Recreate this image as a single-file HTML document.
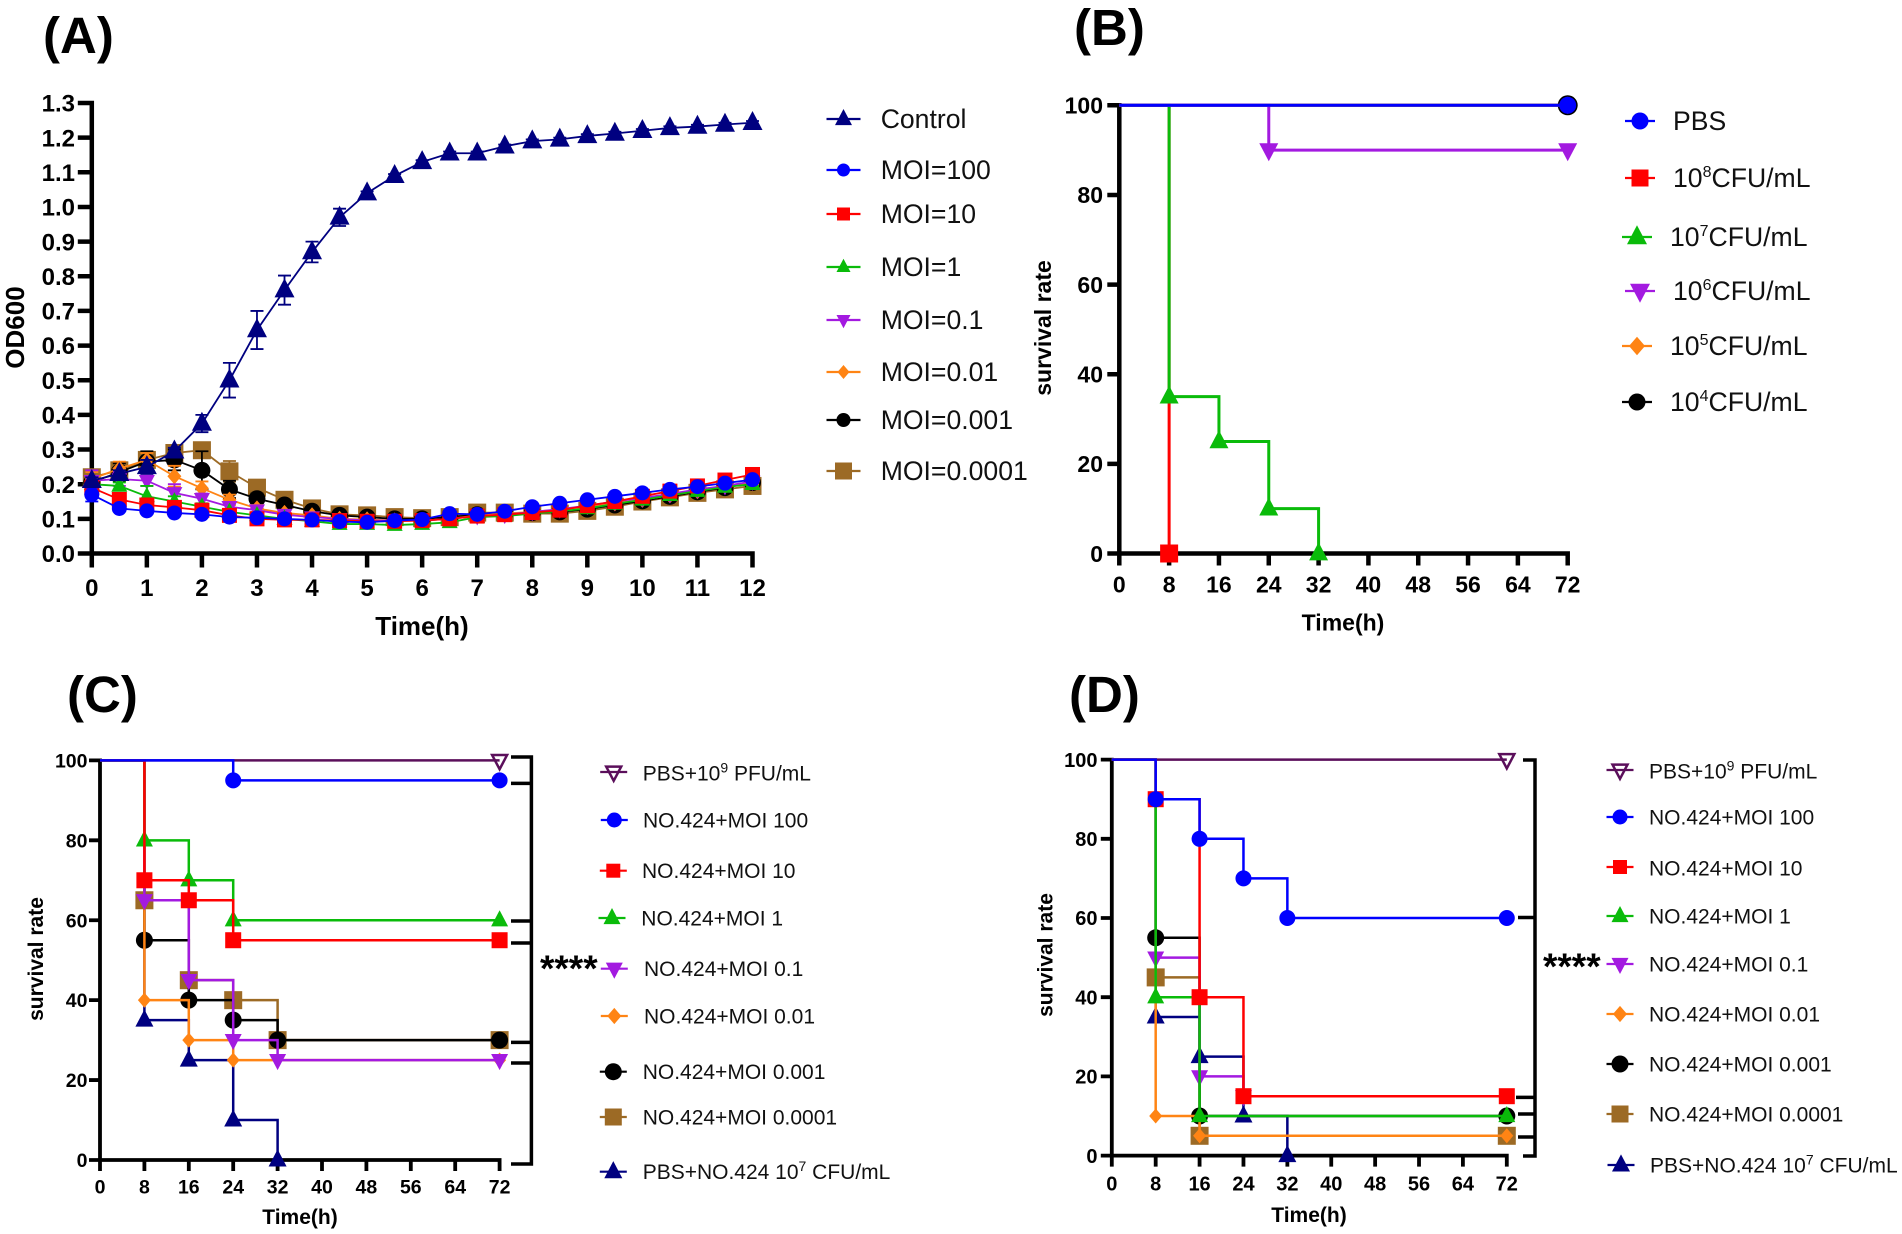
<!DOCTYPE html>
<html lang="en">
<head>
<meta charset="utf-8">
<title>Phage growth and survival curves</title>
<style>
html,body{margin:0;padding:0;background:#fff;}
body{width:1902px;height:1234px;overflow:hidden;}
svg{display:block;}
text{font-family:"Liberation Sans",Arial,sans-serif;fill:#000;}
.title{font-size:51px;font-weight:bold;}
.la{font-size:26.6px;fill:#111;}
.lc{font-size:21px;fill:#111;}
</style>
</head>
<body>
<svg id="figure" xmlns="http://www.w3.org/2000/svg" width="1902" height="1234" viewBox="0 0 1902 1234">
  <text class="title" x="43" y="53">(A)</text>
  <text class="title" x="1074" y="45">(B)</text>
  <text class="title" x="67" y="712">(C)</text>
  <text class="title" x="1069" y="712">(D)</text>

  <g id="panel-a">
    <text x="626" y="635" font-size="26" font-weight="bold" text-anchor="middle" transform="translate(-204,0)">Time(h)</text>
    <text transform="translate(24,327.5) rotate(-90)" font-size="26" font-weight="bold" text-anchor="middle">OD600</text>
  </g>
  <g id="panel-b">
    <text x="1343" y="630.5" font-size="23" font-weight="bold" text-anchor="middle">Time(h)</text>
    <text transform="translate(1051,328) rotate(-90)" font-size="23" font-weight="bold" text-anchor="middle">survival rate</text>
  </g>
  <g id="panel-c">
    <text x="300" y="1224" font-size="21" font-weight="bold" text-anchor="middle">Time(h)</text>
    <text transform="translate(43,959) rotate(-90)" font-size="21" font-weight="bold" text-anchor="middle">survival rate</text>
    <path d="M511 757H531.4V1164H511M511 783.4H531M511 921H531M511 943H531M511 1042.4H531M511 1063H531" fill="none" stroke="#000" stroke-width="3.5"/>
    <text x="540" y="981" font-size="37" font-weight="bold">****</text>
  </g>
  <g id="panel-d">
    <text x="1309" y="1222" font-size="21" font-weight="bold" text-anchor="middle">Time(h)</text>
    <text transform="translate(1052.5,955) rotate(-90)" font-size="21" font-weight="bold" text-anchor="middle">survival rate</text>
    <path d="M1523 760H1535V1156H1523M1518 917.5H1535M1516 1097.4H1535M1518 1114H1535M1518 1137H1535" fill="none" stroke="#000" stroke-width="3.5"/>
    <text x="1543" y="979" font-size="37" font-weight="bold">****</text>
  </g>

  <g id="legend-a">
    <g class="lg" data-shape="triUp" data-color="#000080" data-cx="843.5" data-cy="119" data-size="17" data-half="17"><text class="la" x="880.7" y="128">Control</text></g>
    <g class="lg" data-shape="circle" data-color="#0000ff" data-cx="843.5" data-cy="170" data-size="13" data-half="17"><text class="la" x="880.7" y="179">MOI=100</text></g>
    <g class="lg" data-shape="square" data-color="#ff0000" data-cx="843.5" data-cy="214" data-size="13" data-half="17"><text class="la" x="880.7" y="223">MOI=10</text></g>
    <g class="lg" data-shape="triUp" data-color="#0abb0a" data-cx="843.5" data-cy="267" data-size="14" data-half="17"><text class="la" x="880.7" y="276">MOI=1</text></g>
    <g class="lg" data-shape="triDown" data-color="#a31ae0" data-cx="843.5" data-cy="320" data-size="14" data-half="17"><text class="la" x="880.7" y="329">MOI=0.1</text></g>
    <g class="lg" data-shape="diamond" data-color="#ff8414" data-cx="843.5" data-cy="372" data-size="12" data-half="17"><text class="la" x="880.7" y="381">MOI=0.01</text></g>
    <g class="lg" data-shape="circle" data-color="#000000" data-cx="843.5" data-cy="420" data-size="14" data-half="17"><text class="la" x="880.7" y="429">MOI=0.001</text></g>
    <g class="lg" data-shape="square" data-color="#9c6a25" data-cx="843.5" data-cy="471" data-size="17" data-half="17"><text class="la" x="880.7" y="480">MOI=0.0001</text></g>
  </g>

  <g id="legend-b">
    <g class="lg" data-shape="circle" data-color="#0000ff" data-cx="1640" data-cy="121" data-size="17" data-half="15"><text class="la" x="1673" y="130">PBS</text></g>
    <g class="lg" data-shape="square" data-color="#ff0000" data-cx="1640" data-cy="178" data-size="17" data-half="15"><text class="la" x="1673" y="187">10<tspan dy="-10" font-size="16">8</tspan><tspan dy="10">CFU/mL</tspan></text></g>
    <g class="lg" data-shape="triUp" data-color="#0abb0a" data-cx="1637" data-cy="237" data-size="20" data-half="15"><text class="la" x="1670" y="246">10<tspan dy="-10" font-size="16">7</tspan><tspan dy="10">CFU/mL</tspan></text></g>
    <g class="lg" data-shape="triDown" data-color="#a31ae0" data-cx="1640" data-cy="291" data-size="20" data-half="15"><text class="la" x="1673" y="300">10<tspan dy="-10" font-size="16">6</tspan><tspan dy="10">CFU/mL</tspan></text></g>
    <g class="lg" data-shape="diamond" data-color="#ff8414" data-cx="1637" data-cy="346" data-size="16" data-half="15"><text class="la" x="1670" y="355">10<tspan dy="-10" font-size="16">5</tspan><tspan dy="10">CFU/mL</tspan></text></g>
    <g class="lg" data-shape="circle" data-color="#000000" data-cx="1637" data-cy="402" data-size="17" data-half="15"><text class="la" x="1670" y="411">10<tspan dy="-10" font-size="16">4</tspan><tspan dy="10">CFU/mL</tspan></text></g>
  </g>

  <g id="legend-c">
    <g class="lg" data-shape="triOpen" data-color="#5b0f5b" data-cx="613.7" data-cy="772" data-size="15" data-half="13.5"><text class="lc" x="642.7" y="780.5">PBS+10<tspan dy="-8" font-size="14">9</tspan><tspan dy="8"> PFU/mL</tspan></text></g>
    <g class="lg" data-shape="circle" data-color="#0000ff" data-cx="614.3" data-cy="820" data-size="15" data-half="13.5"><text class="lc" x="643" y="827.5">NO.424+MOI 100</text></g>
    <g class="lg" data-shape="square" data-color="#ff0000" data-cx="613.3" data-cy="870.7" data-size="14" data-half="13.5"><text class="lc" x="642" y="878">NO.424+MOI 10</text></g>
    <g class="lg" data-shape="triUp" data-color="#0abb0a" data-cx="612" data-cy="918" data-size="17" data-half="13.5"><text class="lc" x="641.3" y="925.5">NO.424+MOI 1</text></g>
    <g class="lg" data-shape="triDown" data-color="#a31ae0" data-cx="614.3" data-cy="968.7" data-size="17" data-half="13.5"><text class="lc" x="644" y="976">NO.424+MOI 0.1</text></g>
    <g class="lg" data-shape="diamond" data-color="#ff8414" data-cx="614.3" data-cy="1016" data-size="14" data-half="13.5"><text class="lc" x="644" y="1023.5">NO.424+MOI 0.01</text></g>
    <g class="lg" data-shape="circle" data-color="#000000" data-cx="613.3" data-cy="1071.7" data-size="17" data-half="13.5"><text class="lc" x="642.7" y="1079">NO.424+MOI 0.001</text></g>
    <g class="lg" data-shape="square" data-color="#9c6a25" data-cx="613.3" data-cy="1117" data-size="17" data-half="13.5"><text class="lc" x="642.7" y="1124.5">NO.424+MOI 0.0001</text></g>
    <g class="lg" data-shape="triUp" data-color="#000080" data-cx="613.3" data-cy="1171.7" data-size="18" data-half="13.5"><text class="lc" x="642.7" y="1179">PBS+NO.424 10<tspan dy="-8" font-size="14">7</tspan><tspan dy="8"> CFU/mL</tspan></text></g>
  </g>

  <g id="legend-d">
    <g class="lg" data-shape="triOpen" data-color="#5b0f5b" data-cx="1620" data-cy="770" data-size="15" data-half="13.5"><text class="lc" x="1649" y="778.5">PBS+10<tspan dy="-8" font-size="14">9</tspan><tspan dy="8"> PFU/mL</tspan></text></g>
    <g class="lg" data-shape="circle" data-color="#0000ff" data-cx="1620" data-cy="817" data-size="15" data-half="13.5"><text class="lc" x="1649" y="824.5">NO.424+MOI 100</text></g>
    <g class="lg" data-shape="square" data-color="#ff0000" data-cx="1620" data-cy="867" data-size="14" data-half="13.5"><text class="lc" x="1649" y="875.5">NO.424+MOI 10</text></g>
    <g class="lg" data-shape="triUp" data-color="#0abb0a" data-cx="1620" data-cy="916" data-size="17" data-half="13.5"><text class="lc" x="1649" y="923.5">NO.424+MOI 1</text></g>
    <g class="lg" data-shape="triDown" data-color="#a31ae0" data-cx="1620" data-cy="964" data-size="17" data-half="13.5"><text class="lc" x="1649" y="971.5">NO.424+MOI 0.1</text></g>
    <g class="lg" data-shape="diamond" data-color="#ff8414" data-cx="1620" data-cy="1014" data-size="14" data-half="13.5"><text class="lc" x="1649" y="1021.5">NO.424+MOI 0.01</text></g>
    <g class="lg" data-shape="circle" data-color="#000000" data-cx="1620" data-cy="1064" data-size="17" data-half="13.5"><text class="lc" x="1649" y="1071.5">NO.424+MOI 0.001</text></g>
    <g class="lg" data-shape="square" data-color="#9c6a25" data-cx="1620" data-cy="1114" data-size="17" data-half="13.5"><text class="lc" x="1649" y="1121.5">NO.424+MOI 0.0001</text></g>
    <g class="lg" data-shape="triUp" data-color="#000080" data-cx="1621" data-cy="1165" data-size="18" data-half="13.5"><text class="lc" x="1650" y="1172.5">PBS+NO.424 10<tspan dy="-8" font-size="14">7</tspan><tspan dy="8"> CFU/mL</tspan></text></g>
  </g>
</svg>
<script>
// ---- Panel A data ----
var aHours = [0,0.5,1,1.5,2,2.5,3,3.5,4,4.5,5,5.5,6,6.5,7,7.5,8,8.5,9,9.5,10,10.5,11,11.5,12];
var aXTickLabels = ['0','1','2','3','4','5','6','7','8','9','10','11','12'];
var aYTickLabels = ['0.0','0.1','0.2','0.3','0.4','0.5','0.6','0.7','0.8','0.9','1.0','1.1','1.2','1.3'];
var aControl = [0.21,0.23,0.25,0.295,0.375,0.50,0.645,0.76,0.87,0.97,1.04,1.09,1.13,1.155,1.155,1.175,1.19,1.195,1.205,1.212,1.22,1.228,1.232,1.238,1.243];
var aControlErr = [0.01,0.01,0.02,0.01,0.025,0.05,0.055,0.042,0.03,0.025,0.005,0.005,0.005,0.005,0.005,0.005,0.005,0.005,0.005,0.005,0.005,0.005,0.005,0.005,0.005];
var aMoi100 = [0.17,0.13,0.123,0.117,0.113,0.105,0.103,0.10,0.097,0.092,0.09,0.095,0.098,0.115,0.113,0.122,0.135,0.145,0.155,0.165,0.175,0.185,0.193,0.203,0.213];
var aMoi100Err = [0.02,0.005,0.005,0.005,0.005,0.005,0.005,0.004,0.004,0.004,0.004,0.004,0.004,0.004,0.004,0.004,0.004,0.004,0.004,0.004,0.004,0.004,0.004,0.004,0.004];
var aMoi10 = [0.19,0.156,0.14,0.133,0.125,0.11,0.10,0.097,0.097,0.095,0.093,0.093,0.095,0.10,0.108,0.112,0.118,0.125,0.138,0.15,0.165,0.18,0.195,0.212,0.228];
var aMoi10Err = [0.02,0.01,0.008,0.006,0.006,0.005,0.005,0.005,0.005,0.005,0.005,0.005,0.005,0.005,0.005,0.005,0.005,0.005,0.005,0.005,0.005,0.005,0.005,0.005,0.005];
var aMoi1 = [0.20,0.195,0.165,0.15,0.135,0.12,0.11,0.10,0.093,0.085,0.085,0.082,0.085,0.09,0.105,0.108,0.115,0.122,0.13,0.143,0.155,0.168,0.18,0.192,0.20];
var aMoi1Err = [0.01,0.01,0.03,0.015,0.01,0.008,0.006,0.005,0.005,0.005,0.005,0.005,0.005,0.005,0.005,0.005,0.005,0.005,0.005,0.005,0.005,0.005,0.005,0.005,0.005];
var aMoi01 = [0.21,0.215,0.21,0.175,0.158,0.135,0.125,0.112,0.105,0.10,0.095,0.095,0.095,0.10,0.108,0.112,0.12,0.128,0.138,0.15,0.16,0.172,0.185,0.195,0.208];
var aMoi01Err = [0.03,0.02,0.015,0.025,0.015,0.01,0.008,0.006,0.005,0.005,0.005,0.005,0.005,0.005,0.005,0.005,0.005,0.005,0.005,0.005,0.005,0.005,0.005,0.005,0.005];
var aMoi001 = [0.215,0.245,0.27,0.223,0.188,0.155,0.13,0.117,0.11,0.10,0.098,0.095,0.095,0.10,0.11,0.115,0.12,0.127,0.135,0.145,0.155,0.168,0.18,0.195,0.205];
var aMoi001Err = [0.02,0.02,0.02,0.03,0.02,0.015,0.01,0.006,0.005,0.005,0.005,0.005,0.005,0.005,0.005,0.005,0.005,0.005,0.005,0.005,0.005,0.005,0.005,0.005,0.005];
var aMoi0001 = [0.205,0.235,0.265,0.27,0.24,0.185,0.158,0.14,0.122,0.11,0.105,0.10,0.10,0.105,0.112,0.115,0.118,0.12,0.128,0.14,0.152,0.165,0.178,0.19,0.205];
var aMoi0001Err = [0.015,0.025,0.03,0.03,0.055,0.025,0.015,0.01,0.006,0.005,0.005,0.005,0.005,0.005,0.005,0.005,0.005,0.005,0.005,0.005,0.005,0.005,0.005,0.005,0.005];
var aMoi00001 = [0.22,0.24,0.27,0.29,0.298,0.237,0.19,0.155,0.13,0.113,0.11,0.105,0.102,0.105,0.118,0.118,0.115,0.115,0.123,0.135,0.15,0.162,0.175,0.185,0.195];
var aMoi00001Err = [0.01,0.02,0.02,0.015,0.005,0.03,0.015,0.01,0.006,0.005,0.005,0.005,0.005,0.005,0.005,0.005,0.005,0.005,0.005,0.005,0.005,0.005,0.005,0.005,0.005];

// ---- Survival axes ----
var survivalXTickValues = [0,8,16,24,32,40,48,56,64,72];
var survivalYTickValues = [0,20,40,60,80,100];

// ---- Panel B data ----
var bPbsTimes = [0,72];
var bPbsValues = [100,100];
var b1e8Times = [0,8];
var b1e8Values = [100,0];
var b1e7Times = [0,8,16,24,32];
var b1e7Values = [100,35,25,10,0];
var b1e6Times = [0,24,72];
var b1e6Values = [100,90,90];
var b1e5Times = [0,72];
var b1e5Values = [100,100];
var b1e4Times = [0,72];
var b1e4Values = [100,100];

// ---- Panel C data ----
var cPhageTimes = [0,72];
var cPhageValues = [100,100];
var cMoi100Times = [0,24,72];
var cMoi100Values = [100,95,95];
var cMoi10Times = [0,8,16,24,72];
var cMoi10Values = [100,70,65,55,55];
var cMoi1Times = [0,8,16,24,72];
var cMoi1Values = [100,80,70,60,60];
var cMoi01Times = [0,8,16,24,32,72];
var cMoi01Values = [100,65,45,30,25,25];
var cMoi001Times = [0,8,16,24,72];
var cMoi001Values = [100,40,30,25,25];
var cMoi0001Times = [0,8,16,24,32,72];
var cMoi0001Values = [100,55,40,35,30,30];
var cMoi00001Times = [0,8,16,24,32,72];
var cMoi00001Values = [100,65,45,40,30,30];
var cBacteriaTimes = [0,8,16,24,32];
var cBacteriaValues = [100,35,25,10,0];

// ---- Panel D data ----
var dPhageTimes = [0,72];
var dPhageValues = [100,100];
var dMoi100Times = [0,8,16,24,32,72];
var dMoi100Values = [100,90,80,70,60,60];
var dMoi10Times = [0,8,16,24,72];
var dMoi10Values = [100,90,40,15,15];
var dMoi1Times = [0,8,16,72];
var dMoi1Values = [100,40,10,10];
var dMoi01Times = [0,8,16,24];
var dMoi01Values = [100,50,20,15];
var dMoi001Times = [0,8,16,72];
var dMoi001Values = [100,10,5,5];
var dMoi0001Times = [0,8,16,72];
var dMoi0001Values = [100,55,10,10];
var dMoi00001Times = [0,8,16,72];
var dMoi00001Values = [100,45,5,5];
var dBacteriaTimes = [0,8,16,24,32];
var dBacteriaValues = [100,35,25,10,0];

var NS = 'http://www.w3.org/2000/svg';
var NAVY = '#000080', BLUE = '#0000ff', RED = '#ff0000', GREEN = '#0abb0a', PURPLE = '#a31ae0', ORANGE = '#ff8414', BLACK = '#000000', BROWN = '#9c6a25', PLUM = '#5b0f5b';

function svgEl(tag, attrs, parent) {
  var el = document.createElementNS(NS, tag);
  for (var k in attrs) { el.setAttribute(k, attrs[k]); }
  if (parent) { parent.appendChild(el); }
  return el;
}

function linearScale(d0, d1, r0, r1) {
  return function (v) { return r0 + (v - d0) / (d1 - d0) * (r1 - r0); };
}

function drawMarker(parent, shape, cx, cy, s, color) {
  var h, el;
  if (shape === 'circle') {
    el = svgEl('circle', { cx: cx, cy: cy, r: s / 2, fill: color }, parent);
  } else if (shape === 'square') {
    el = svgEl('rect', { x: cx - s / 2, y: cy - s / 2, width: s, height: s, fill: color }, parent);
  } else if (shape === 'diamond') {
    h = s * 0.58;
    el = svgEl('polygon', { points: cx + ',' + (cy - h) + ' ' + (cx + s / 2) + ',' + cy + ' ' + cx + ',' + (cy + h) + ' ' + (cx - s / 2) + ',' + cy, fill: color }, parent);
  } else if (shape === 'triUp') {
    h = s * 0.95;
    el = svgEl('polygon', { points: cx + ',' + (cy - h * 0.62) + ' ' + (cx + s / 2) + ',' + (cy + h * 0.38) + ' ' + (cx - s / 2) + ',' + (cy + h * 0.38), fill: color }, parent);
  } else if (shape === 'triDown') {
    h = s * 0.95;
    el = svgEl('polygon', { points: cx + ',' + (cy + h * 0.62) + ' ' + (cx + s / 2) + ',' + (cy - h * 0.38) + ' ' + (cx - s / 2) + ',' + (cy - h * 0.38), fill: color }, parent);
  } else {
    h = s * 0.95;
    el = svgEl('polygon', { points: cx + ',' + (cy + h * 0.62) + ' ' + (cx + s / 2) + ',' + (cy - h * 0.38) + ' ' + (cx - s / 2) + ',' + (cy - h * 0.38), fill: 'none', stroke: color, 'stroke-width': 2.5 }, parent);
  }
  
  
  return el;
}

function drawAxes(parent, o) {
  var g = svgEl('g', {}, parent);
  
  
  var d = 'M' + o.x(o.xMin) + ' ' + (o.y(o.yMax) - o.axisWidth / 2) + 'V' + o.y(o.yMin) + 'H' + (o.x(o.xMax) + o.axisWidth / 2);
  o.xTicks.forEach(function (t) { d += 'M' + o.x(t) + ' ' + o.y(o.yMin) + 'v' + o.tick; });
  o.yTicks.forEach(function (t) { d += 'M' + o.x(o.xMin) + ' ' + o.y(t) + 'h' + (-o.tick); });
  var axisPath = svgEl('path', { d: d, fill: 'none', stroke: '#000', 'stroke-width': o.axisWidth, 'stroke-linejoin': 'miter' }, g);
  
  
  o.xTicks.forEach(function (t, i) {
    var label = svgEl('text', { x: o.x(t), y: o.xLabelY, 'font-size': o.fontSize, 'font-weight': 'bold', 'text-anchor': 'middle' }, g);
    label.textContent = o.xLabels[i];
    
    
  });
  o.yTicks.forEach(function (t, i) {
    var label = svgEl('text', { x: o.yLabelX, y: o.y(t) + o.fontSize * 0.36, 'font-size': o.fontSize, 'font-weight': 'bold', 'text-anchor': 'end' }, g);
    label.textContent = o.yLabels[i];
    
    
  });
}

function drawLineSeries(parent, o, s) {
  var g = svgEl('g', {}, parent);
  
  
  var d = '', bars = '';
  s.values.forEach(function (v, i) {
    var px = o.x(aHours[i]);
    d += (i ? 'L' : 'M') + px + ' ' + o.y(v);
    var top = o.y(v + s.err[i]), bot = o.y(v - s.err[i]);
    bars += 'M' + px + ' ' + top + 'V' + bot + 'M' + (px - 6.5) + ' ' + top + 'h13M' + (px - 6.5) + ' ' + bot + 'h13';
  });
  var errPath = svgEl('path', { d: bars, fill: 'none', stroke: s.color, 'stroke-width': 1.8 }, g);
  
  
  var linePath = svgEl('path', { d: d, fill: 'none', stroke: s.color, 'stroke-width': 1.8 }, g);
  
  
  s.values.forEach(function (v, i) {
    drawMarker(g, s.shape, o.x(aHours[i]), o.y(v), s.size, s.color);
  });
}

function drawStepSeries(parent, o, s) {
  var g = svgEl('g', {}, parent);
  
  
  var d = 'M' + o.x(s.times[0]) + ' ' + o.y(s.values[0]);
  for (var i = 1; i < s.times.length; i++) {
    d += 'H' + o.x(s.times[i]) + 'V' + o.y(s.values[i]);
  }
  var linePath = svgEl('path', { d: d, fill: 'none', stroke: s.color, 'stroke-width': o.lineWidth }, g);
  
  
  for (var j = 1; j < s.times.length; j++) {
    drawMarker(g, s.shape, o.x(s.times[j]), o.y(s.values[j]), s.size, s.color);
  }
}

function rangeLabels(arr) { return arr.map(String); }

// ---- Panel A ----
var axA = {
  x: linearScale(0, 12, 91.8, 752.5), y: linearScale(0, 1.3, 553.5, 103),
  xMin: 0, xMax: 12, yMin: 0, yMax: 1.3,
  xTicks: aXTickLabels.map(Number), yTicks: aYTickLabels.map(Number),
  xLabels: aXTickLabels, yLabels: aYTickLabels,
  tick: 14, axisWidth: 4.5, fontSize: 24, xLabelY: 596, yLabelX: 75
};
var panelA = document.getElementById('panel-a');
drawAxes(panelA, axA);
[
  { name: 'series-moi-0-0001', color: BROWN, shape: 'square', size: 18, values: aMoi00001, err: aMoi00001Err },
  { name: 'series-moi-0-001', color: BLACK, shape: 'circle', size: 17, values: aMoi0001, err: aMoi0001Err },
  { name: 'series-moi-0-01', color: ORANGE, shape: 'diamond', size: 14, values: aMoi001, err: aMoi001Err },
  { name: 'series-moi-0-1', color: PURPLE, shape: 'triDown', size: 16, values: aMoi01, err: aMoi01Err },
  { name: 'series-moi-1', color: GREEN, shape: 'triUp', size: 16, values: aMoi1, err: aMoi1Err },
  { name: 'series-moi-10', color: RED, shape: 'square', size: 15, values: aMoi10, err: aMoi10Err },
  { name: 'series-moi-100', color: BLUE, shape: 'circle', size: 15, values: aMoi100, err: aMoi100Err },
  { name: 'series-control', color: NAVY, shape: 'triUp', size: 20, values: aControl, err: aControlErr }
].forEach(function (s) { drawLineSeries(panelA, axA, s); });

// ---- Panel B ----
var axB = {
  x: linearScale(0, 72, 1119.3, 1567.7), y: linearScale(0, 100, 553.5, 105.3),
  xMin: 0, xMax: 72, yMin: 0, yMax: 100,
  xTicks: survivalXTickValues, yTicks: survivalYTickValues,
  xLabels: rangeLabels(survivalXTickValues), yLabels: rangeLabels(survivalYTickValues),
  tick: 12, axisWidth: 4.5, fontSize: 23, xLabelY: 592.5, yLabelX: 1103, lineWidth: 3
};
var panelB = document.getElementById('panel-b');
drawAxes(panelB, axB);
[
  { name: 'series-1e4', color: BLACK, shape: 'circle', size: 20, times: b1e4Times, values: b1e4Values },
  { name: 'series-1e5', color: ORANGE, shape: 'diamond', size: 15, times: b1e5Times, values: b1e5Values },
  { name: 'series-1e8', color: RED, shape: 'square', size: 18, times: b1e8Times, values: b1e8Values },
  { name: 'series-1e7', color: GREEN, shape: 'triUp', size: 19, times: b1e7Times, values: b1e7Values },
  { name: 'series-1e6', color: PURPLE, shape: 'triDown', size: 19, times: b1e6Times, values: b1e6Values },
  { name: 'series-pbs', color: BLUE, shape: 'circle', size: 17, times: bPbsTimes, values: bPbsValues }
].forEach(function (s) { drawStepSeries(panelB, axB, s); });

// ---- Panel C ----
var axC = {
  x: linearScale(0, 72, 100, 499.6), y: linearScale(0, 100, 1160, 760.4),
  xMin: 0, xMax: 72, yMin: 0, yMax: 100,
  xTicks: survivalXTickValues, yTicks: survivalYTickValues,
  xLabels: rangeLabels(survivalXTickValues), yLabels: rangeLabels(survivalYTickValues),
  tick: 11, axisWidth: 3.8, fontSize: 19.5, xLabelY: 1193.5, yLabelX: 87.5, lineWidth: 2.5
};
var panelC = document.getElementById('panel-c');
drawAxes(panelC, axC);
[
  { name: 'series-pbs-phage', color: PLUM, shape: 'triOpen', size: 15, times: cPhageTimes, values: cPhageValues },
  { name: 'series-pbs-bacteria', color: NAVY, shape: 'triUp', size: 18, times: cBacteriaTimes, values: cBacteriaValues },
  { name: 'series-moi-0-0001', color: BROWN, shape: 'square', size: 18, times: cMoi00001Times, values: cMoi00001Values },
  { name: 'series-moi-0-001', color: BLACK, shape: 'circle', size: 17, times: cMoi0001Times, values: cMoi0001Values },
  { name: 'series-moi-0-01', color: ORANGE, shape: 'diamond', size: 13, times: cMoi001Times, values: cMoi001Values },
  { name: 'series-moi-0-1', color: PURPLE, shape: 'triDown', size: 17, times: cMoi01Times, values: cMoi01Values },
  { name: 'series-moi-1', color: GREEN, shape: 'triUp', size: 17, times: cMoi1Times, values: cMoi1Values },
  { name: 'series-moi-10', color: RED, shape: 'square', size: 16, times: cMoi10Times, values: cMoi10Values },
  { name: 'series-moi-100', color: BLUE, shape: 'circle', size: 16, times: cMoi100Times, values: cMoi100Values }
].forEach(function (s) { drawStepSeries(panelC, axC, s); });

// ---- Panel D ----
var axD = {
  x: linearScale(0, 72, 1111.8, 1506.8), y: linearScale(0, 100, 1155.6, 759.6),
  xMin: 0, xMax: 72, yMin: 0, yMax: 100,
  xTicks: survivalXTickValues, yTicks: survivalYTickValues,
  xLabels: rangeLabels(survivalXTickValues), yLabels: rangeLabels(survivalYTickValues),
  tick: 11, axisWidth: 3.8, fontSize: 20, xLabelY: 1190.5, yLabelX: 1097.5, lineWidth: 2.5
};
var panelD = document.getElementById('panel-d');
drawAxes(panelD, axD);
[
  { name: 'series-pbs-phage', color: PLUM, shape: 'triOpen', size: 15, times: dPhageTimes, values: dPhageValues },
  { name: 'series-pbs-bacteria', color: NAVY, shape: 'triUp', size: 18, times: dBacteriaTimes, values: dBacteriaValues },
  { name: 'series-moi-0-0001', color: BROWN, shape: 'square', size: 18, times: dMoi00001Times, values: dMoi00001Values },
  { name: 'series-moi-0-001', color: BLACK, shape: 'circle', size: 17, times: dMoi0001Times, values: dMoi0001Values },
  { name: 'series-moi-0-01', color: ORANGE, shape: 'diamond', size: 13, times: dMoi001Times, values: dMoi001Values },
  { name: 'series-moi-0-1', color: PURPLE, shape: 'triDown', size: 17, times: dMoi01Times, values: dMoi01Values },
  { name: 'series-moi-1', color: GREEN, shape: 'triUp', size: 17, times: dMoi1Times, values: dMoi1Values },
  { name: 'series-moi-10', color: RED, shape: 'square', size: 16, times: dMoi10Times, values: dMoi10Values },
  { name: 'series-moi-100', color: BLUE, shape: 'circle', size: 16, times: dMoi100Times, values: dMoi100Values }
].forEach(function (s) { drawStepSeries(panelD, axD, s); });

// ---- Legend keys ----
Array.prototype.forEach.call(document.querySelectorAll('.lg'), function (row) {
  var cx = parseFloat(row.getAttribute('data-cx'));
  var cy = parseFloat(row.getAttribute('data-cy'));
  var half = parseFloat(row.getAttribute('data-half'));
  var color = row.getAttribute('data-color');
  var key = svgEl('line', { x1: cx - half, x2: cx + half, y1: cy, y2: cy, stroke: color, 'stroke-width': 2.2 }, row);
  
  
  drawMarker(row, row.getAttribute('data-shape'), cx, cy, parseFloat(row.getAttribute('data-size')), color);
});
</script>
</body>
</html>
